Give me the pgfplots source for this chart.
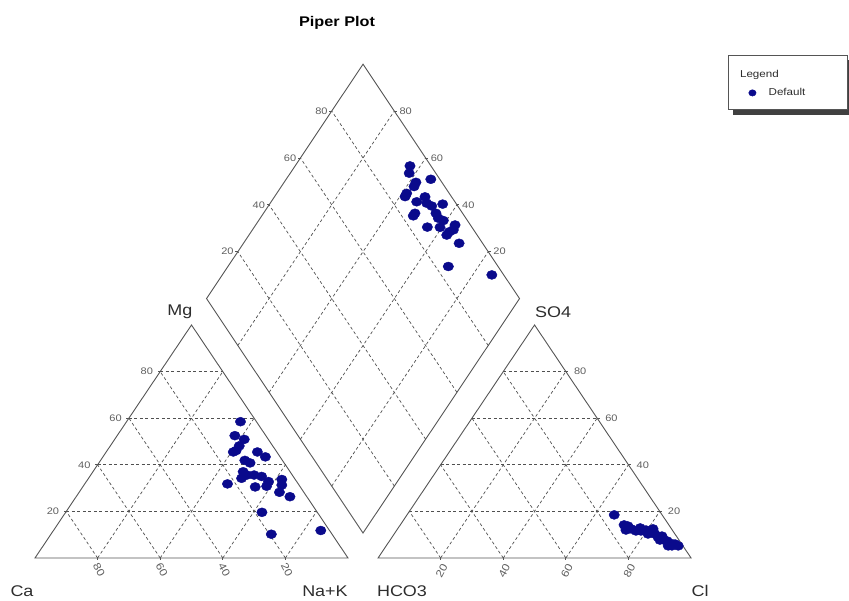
\documentclass[border=0pt]{standalone}
\usepackage{fontspec}
\setmainfont{Liberation Sans}
\usepackage{graphicx}
\usepackage{pgfplots}
\pgfplotsset{compat=1.18}
\usepackage{pgfplotstable}

\definecolor{ptblue}{RGB}{10,10,140}
\definecolor{framec}{RGB}{85,85,85}
\definecolor{gridc}{RGB}{80,80,80}
\definecolor{tickc}{RGB}{95,95,95}
\definecolor{labc}{RGB}{45,45,45}

\newcommand{\sx}[1]{\scalebox{1.16}[1]{#1}}
\tikzset{
  ptick/.style={font=\fontsize{9.5}{11}\selectfont, text=tickc, inner sep=0pt},
  pbtick/.style={font=\fontsize{10.5}{12}\selectfont, text=tickc, inner sep=0pt},
  pgrid/.style={gridc, line width=0.7pt, dash pattern=on 3pt off 2.5pt},
  pmk/.style={framec, line width=0.8pt},
}

% Cation triangle: Na+K (%) and Mg (%)
\pgfplotstableread{
na mg
36.4 58.5
37.6 52.5
41.4 50.9
41.2 48.1
41.2 46.1
40.6 45.5
48.3 45.5
51.9 43.4
46.1 41.9
48.3 40.8
48.0 37.0
49.9 35.6
52.2 35.6
54.9 35.0
58.2 32.8
62.0 33.7
63.2 31.3
45.6 31.8
55.1 30.5
58.6 30.8
64.0 28.2
68.3 26.3
62.7 19.6
70.4 10.2
85.4 11.8
48.9 34.2
}\cation

% Anion triangle: Cl (%) and SO4 (%)
\pgfplotstableread{
cl so4
66.2 18.5
71.5 14.2
73.2 12.0
74.6 12.5
76.6 11.6
78.2 11.6
79.6 12.0
81.1 11.6
81.6 12.5
83.3 10.3
84.9 9.0
86.0 9.4
87.5 7.7
88.7 7.3
90.1 6.4
91.3 5.2
91.9 6.0
93.3 5.2
90.1 5.2
86.2 7.7
81.1 10.3
73.0 13.7
77.3 12.9
}\anion

% Diamond: Ca+Mg (%) and SO4+Cl (%)
\pgfplotstableread{
camg so4cl
63.3 93.3
62.0 91.5
53.8 97.1
57.9 91.7
57.6 90.2
58.5 86.4
58.3 85.2
53.5 87.8
51.9 91.5
50.0 90.7
47.8 91.7
44.7 95.6
51.6 84.8
51.6 83.7
44.9 91.5
43.1 91.2
41.0 92.3
44.7 85.8
40.6 89.8
36.3 95.1
36.7 91.8
36.8 90.3
35.8 93.5
31.1 92.5
29.6 84.1
13.9 96.2
}\diamondtab

\begin{document}
\begin{tikzpicture}
\begin{axis}[
  width=849pt, height=600pt, scale only axis,
  xmin=-11.18, xmax=260.06, ymin=-18.03, ymax=239.48,
  hide axis, clip=false,
  legend style={at={(axis cs:227.8,199.6)}, anchor=west, draw=none, fill=none,
    inner sep=0pt, font=\fontsize{10}{12}\selectfont, text=labc},
  legend image code/.code={\draw[#1] plot coordinates {(0pt,0pt)}; \path (-4pt,0pt) (14pt,0pt);},
]
% frames
\draw[framec, line width=0.9pt] (axis cs:0,0) -- (axis cs:100,0) -- (axis cs:50,100) -- cycle;
\draw[framec, line width=0.9pt] (axis cs:109.6,0) -- (axis cs:209.6,0) -- (axis cs:159.6,100) -- cycle;
\draw[framec, line width=0.9pt] (axis cs:104.8,10.73) -- (axis cs:154.8,111.33) -- (axis cs:104.8,211.93) -- (axis cs:54.8,111.33) -- cycle;

\pgfplotsinvokeforeach{20,40,60,80}{
  % cation triangle grid
  \draw[pgrid] (axis cs:{#1/2},#1) -- (axis cs:{100-#1/2},#1);
  \draw[pgrid] (axis cs:#1,0) -- (axis cs:{#1+(100-#1)/2},{100-#1});
  \draw[pgrid] (axis cs:{100-#1},0) -- (axis cs:{(100-#1)/2},{100-#1});
  % anion triangle grid
  \draw[pgrid] (axis cs:{109.6+#1/2},#1) -- (axis cs:{209.6-#1/2},#1);
  \draw[pgrid] (axis cs:{109.6+#1},0) -- (axis cs:{109.6+#1+(100-#1)/2},{100-#1});
  \draw[pgrid] (axis cs:{209.6-#1},0) -- (axis cs:{109.6+(100-#1)/2},{100-#1});
  % diamond grid
  \draw[pgrid] (axis cs:{104.8-0.5*#1},{10.73+1.006*#1}) -- (axis cs:{154.8-0.5*#1},{111.33+1.006*#1});
  \draw[pgrid] (axis cs:{104.8+0.5*#1},{10.73+1.006*#1}) -- (axis cs:{54.8+0.5*#1},{111.33+1.006*#1});
  % small ticks
  \draw[pmk] (axis cs:#1,0) -- ++(0pt,-2.5pt);
  \draw[pmk] (axis cs:{109.6+#1},0) -- ++(0pt,-2.5pt);
  \draw[pmk] (axis cs:{#1/2},#1) -- ++(-2.5pt,0pt);
  \draw[pmk] (axis cs:{209.6-#1/2},#1) -- ++(2.5pt,0pt);
  \draw[pmk] (axis cs:{54.8+0.5*#1},{111.33+1.006*#1}) -- ++(-2.5pt,0pt);
  \draw[pmk] (axis cs:{154.8-0.5*#1},{111.33+1.006*#1}) -- ++(2.5pt,0pt);
  % tick labels
  \node[ptick, anchor=east, xshift=-7pt] at (axis cs:{#1/2},#1) {\sx{#1}};
  \node[pbtick, yshift=-12pt, xshift=1.5pt, rotate=-62] at (axis cs:{100-#1},0) {\sx{#1}};
  \node[ptick, anchor=west, xshift=8pt] at (axis cs:{209.6-#1/2},#1) {\sx{#1}};
  \node[pbtick, yshift=-13pt, xshift=1pt, rotate=62] at (axis cs:{109.6+#1},0) {\sx{#1}};
  \node[ptick, anchor=east, xshift=-4pt] at (axis cs:{54.8+0.5*#1},{111.33+1.006*#1}) {\sx{#1}};
  \node[ptick, anchor=west, xshift=5pt] at (axis cs:{154.8-0.5*#1},{111.33+1.006*#1}) {\sx{#1}};
}

% axis names
\node[font=\fontsize{15.5}{18}\selectfont, text=labc] at (axis cs:46.3,105.6) {\sx{Mg}};
\node[font=\fontsize{15.5}{18}\selectfont, text=labc] at (axis cs:165.5,105.6) {\sx{SO4}};
\node[font=\fontsize{15.5}{18}\selectfont, text=labc] at (axis cs:-4.15,-14.3) {\sx{Ca}};
\node[font=\fontsize{15.5}{18}\selectfont, text=labc] at (axis cs:92.65,-14.3) {\sx{Na+K}};
\node[font=\fontsize{15.5}{18}\selectfont, text=labc] at (axis cs:117.25,-14.3) {\sx{HCO3}};
\node[font=\fontsize{15.5}{18}\selectfont, text=labc] at (axis cs:212.46,-14.3) {\sx{Cl}};
\node[font=\bfseries\fontsize{14}{17}\selectfont, text=black] at (axis cs:96.5,229.6) {\sx{Piper Plot}};

% legend box
\fill[black!75] (axis cs:223.0,213.7) rectangle (axis cs:261.5,190.1);
\draw[framec, fill=white, line width=0.8pt] (axis cs:221.4,215.9) rectangle (axis cs:259.7,192.7);
\node[anchor=west, font=\fontsize{10}{12}\selectfont, text=labc, inner sep=0pt] at (axis cs:225.2,207.3) {\sx{Legend}};

% data
\addplot[only marks, mark=*, mark size=4.5pt, mark options={xscale=1.16, draw=ptblue, fill=ptblue}, forget plot]
  table[x expr=\thisrow{na}+0.5*\thisrow{mg}, y=mg]{\cation};
\addplot[only marks, mark=*, mark size=4.5pt, mark options={xscale=1.16, draw=ptblue, fill=ptblue}, forget plot]
  table[x expr=109.6+\thisrow{cl}+0.5*\thisrow{so4}, y=so4]{\anion};
\addplot[only marks, mark=*, mark size=4.5pt, mark options={xscale=1.16, draw=ptblue, fill=ptblue}, forget plot]
  table[x expr=104.8+0.5*(\thisrow{so4cl}-\thisrow{camg}), y expr=10.73+1.006*(\thisrow{camg}+\thisrow{so4cl})]{\diamondtab};

\addlegendimage{only marks, mark=*, mark size=3.2pt, mark options={xscale=1.16, draw=ptblue, fill=ptblue}}
\addlegendentry{\sx{Default}}
\end{axis}
\pgfresetboundingbox
\path[use as bounding box] (current axis.south west) rectangle (current axis.north east);
\end{tikzpicture}
\end{document}
